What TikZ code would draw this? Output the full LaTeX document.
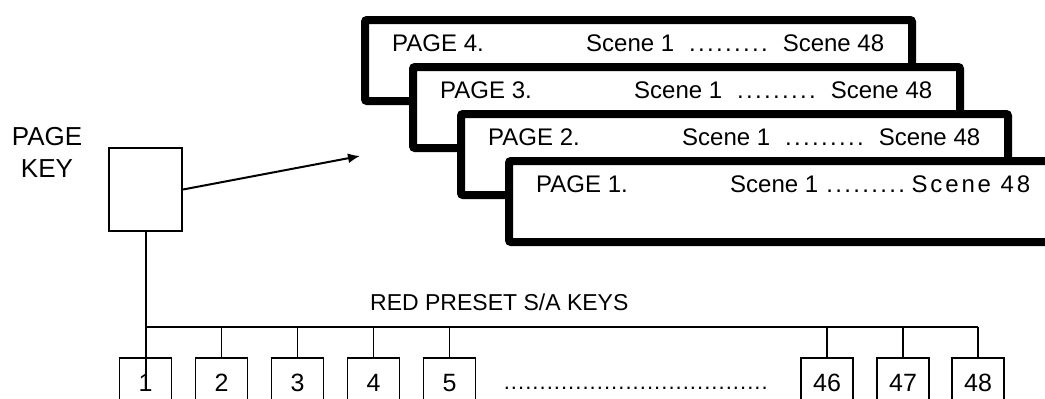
\documentclass[tikz,border=0pt]{standalone}
\usepackage{fontspec}
\setmainfont{Liberation Sans}
\usetikzlibrary{arrows.meta}
\newcommand\pagedots{\hbox to 81pt{\xleaders\hbox to 9pt{\hss.\hss}\hfill}}
\newcommand\scenerow[1]{\ifnum#1>1
    \hbox to 298pt{Scene 1\hfill\pagedots\hfill Scene 48}%
  \else
    \hbox to 300pt{Scene 1\hskip 7pt\pagedots\hfill{\addfontfeatures{LetterSpace=12}Scene 48}}%
  \fi}
\begin{document}
\begin{tikzpicture}[
    x=1pt, y=-1pt,
    card/.style={draw, line width=8pt, rounded corners=2pt, fill=white, anchor=north west,
                 minimum width=547pt, minimum height=81pt, inner sep=0pt},
    cardtext/.style={anchor=base west, inner sep=0pt, font=\fontsize{24}{28}\selectfont},
    key/.style={draw, line width=1.5pt, anchor=north, minimum width=52pt, minimum height=50pt,
                inner sep=0pt, font=\fontsize{25}{29}\selectfont},
    wire/.style={line width=1.5pt}
]
  \useasboundingbox (0,0) rectangle (1045,399);
  \clip (0,0) rectangle (1045,399);
  % pages stacked back to front, page 1 runs off the right edge
  \foreach \n [evaluate=\n as \cx using 357+48*(4-\n),
               evaluate=\n as \cy using 12+47*(4-\n)] in {4,3,2,1} {
    \node[card] (card\n) at (\cx+4,\cy+4) {};
    \node[cardtext] (pg\n) at (\cx+35,\cy+39) {PAGE \n.};
    \node[cardtext] (sc\n) at (\cx+229,\cy+39) {\scenerow{\n}};
  }
  \node[align=center, font=\fontsize{26}{32}\selectfont] (keylabel) at (47,152) {PAGE\\KEY};
  \node[draw, line width=2pt, minimum width=73pt, minimum height=83pt] (pagekey) at (145.5,189.5) {};
  \coordinate (tip) at (360,156);
  \draw[line width=2pt, -{Latex[length=12pt,width=10pt]}] (pagekey.east) -- (tip);
  \node[anchor=west, inner sep=0pt, font=\fontsize{23}{27}\selectfont] (redkeys) at (370,302) {RED PRESET S/A KEYS};
  \coordinate (busL) at (145.5,327);
  \coordinate (busR) at (978,327);
  \draw[line width=2pt] (busL) -- (busR);
  \foreach \k/\kx in {1/145.5,2/221.5,3/297.5,4/373.5,5/449.5,46/827,47/903,48/978} {
    \node[key] (k\k) at (\kx,357) {\k};
    \ifnum\k>1 \draw[wire] (k\k.north) -- (k\k.north |- busL); \fi
  }
  \coordinate (keyend) at (145.5,387);
  \draw[line width=2pt] (pagekey.south) -- (keyend);
  \node[anchor=base west, inner sep=0pt, font=\fontsize{22}{26}\selectfont] (gap) at (503,389)
    {\hbox to 265pt{\xleaders\hbox to 7pt{\hss.\hss}\hfill}};
\end{tikzpicture}
\end{document}
